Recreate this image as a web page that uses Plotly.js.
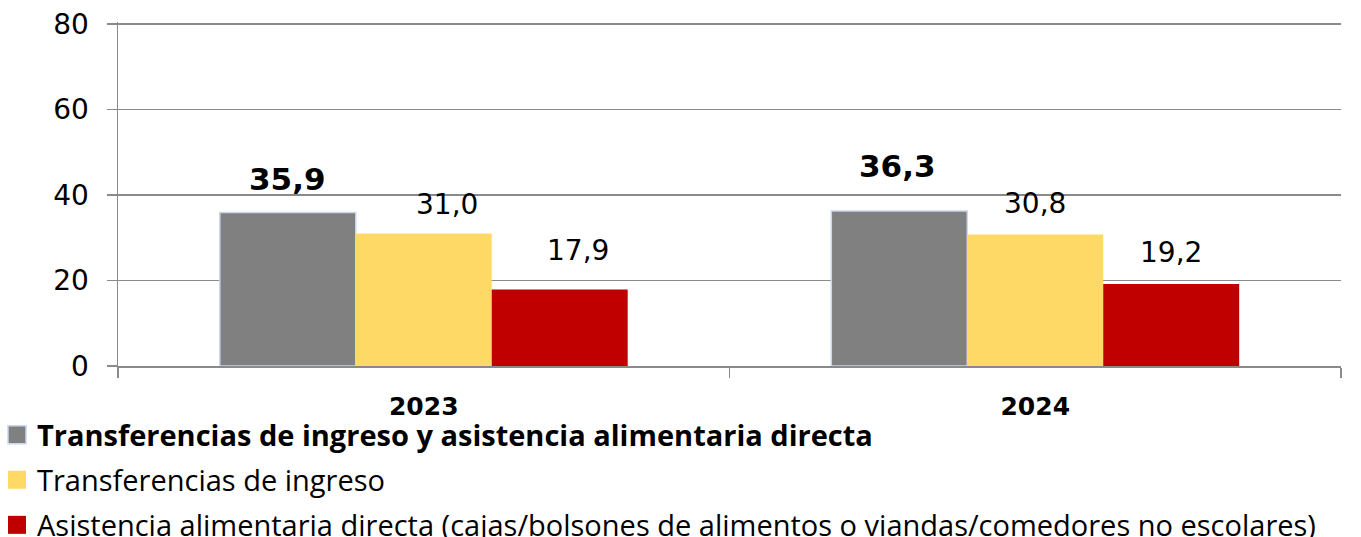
<!DOCTYPE html>
<html>
<head>
<meta charset="utf-8">
<script src="https://cdn.plot.ly/plotly-3.0.1.min.js"></script>
<style>html,body{margin:0;padding:0;background:#fff}#chart{width:1361px;height:537px}</style>
</head>
<body>
<div id="chart"></div>
<script>
const categories = ['2023', '2024'];
const seriesNames = [
  'Transferencias de ingreso y asistencia alimentaria directa',
  'Transferencias de ingreso',
  'Asistencia alimentaria directa (cajas/bolsones de alimentos o viandas/comedores no escolares)'
];
const ambas = [35.9, 36.3];
const ingreso = [31.0, 30.8];
const alimentaria = [17.9, 19.2];
const yTicks = [0, 20, 40, 60, 80];

const colors = ['#808080', '#FFD966', '#C00000'];
const values = [ambas, ingreso, alimentaria];
const bargap = 0.333;
const barW = (1 - bargap) / 3;
// label offsets (pixels) as placed in the original
const labelShift = [
  [{x: 0, y: 34}, {x: -2, y: 45}],
  [{x: 23, y: 29}, {x: 0, y: 31}],
  [{x: 18, y: 39}, {x: 0, y: 31}]
];

const fmt = v => v.toFixed(1).replace('.', ',');

const traces = values.map((vals, i) => ({
  type: 'bar',
  x: categories,
  y: vals,
  name: i === 0 ? '<b>' + seriesNames[i] + '</b>' : seriesNames[i],
  marker: {color: colors[i], line: {color: i === 0 ? '#c9d6ec' : colors[i], width: i === 0 ? 1.5 : 0}},
  legend: i === 0 ? 'legend' : 'legend' + (i + 1),
  hoverinfo: 'none'
}));

const annotations = [];
values.forEach((vals, i) => {
  vals.forEach((v, j) => {
    annotations.push({
      x: j + (i - 1) * barW,
      y: v,
      xref: 'x', yref: 'y',
      text: i === 0 ? '<b>' + fmt(v) + '</b>' : fmt(v),
      showarrow: false,
      xanchor: 'center', yanchor: 'middle',
      xshift: labelShift[i][j].x,
      yshift: labelShift[i][j].y,
      font: {family: 'DejaVu Sans', size: i === 0 ? 31 : 28, color: '#000'}
    });
  });
});

const legendBase = {
  xref: 'paper', yref: 'container', x: -121 / 1223, xanchor: 'left', yanchor: 'middle',
  bgcolor: 'rgba(0,0,0,0)', borderwidth: 0,
  font: {family: 'Open Sans', size: 29, color: '#000'}
};
const legendY = [435, 480, 525];

const layout = {
  width: 1361, height: 537,
  margin: {l: 118, r: 20, t: 22, b: 171, pad: 0, autoexpand: false},
  paper_bgcolor: '#fff', plot_bgcolor: '#fff',
  showlegend: true,
  bargap: bargap, bargroupgap: 0, barmode: 'group',
  xaxis: {
    type: 'category', tickson: 'boundaries', ticks: 'outside', ticklen: 10,
    tickcolor: '#8a8a8a', tickwidth: 1.5, showline: true, linecolor: '#8a8a8a', linewidth: 1.5,
    showgrid: false, zeroline: false, ticklabelstandoff: 17, tickangle: 0, automargin: false,
    tickfont: {family: 'DejaVu Sans', size: 25, color: '#000', weight: 'bold'},
    fixedrange: true
  },
  yaxis: {
    range: [0, 80.5], tickvals: yTicks, ticktext: yTicks.map(String),
    ticks: 'outside', ticklen: 10, tickcolor: '#8a8a8a', tickwidth: 1.5,
    showline: true, linecolor: '#8a8a8a', linewidth: 1.5, automargin: false,
    showgrid: true, gridcolor: '#8a8a8a', gridwidth: 1.5, zeroline: false,
    ticklabelstandoff: 12,
    tickfont: {family: 'DejaVu Sans', size: 28, color: '#000'},
    fixedrange: true
  },
  legend: Object.assign({}, legendBase, {y: 1 - legendY[0] / 537}),
  legend2: Object.assign({}, legendBase, {y: 1 - legendY[1] / 537}),
  legend3: Object.assign({}, legendBase, {y: 1 - legendY[2] / 537}),
  annotations: annotations
};

function enlargeSymbols() {
  document.querySelectorAll('.legendpoints path').forEach(p => {
    p.setAttribute('d', 'M9,9H-9V-9H9Z');
  });
}
Plotly.newPlot('chart', traces, layout, {displayModeBar: false, staticPlot: true}).then(() => {
  enlargeSymbols();
  setTimeout(enlargeSymbols, 50);
});
</script>
</body>
</html>
